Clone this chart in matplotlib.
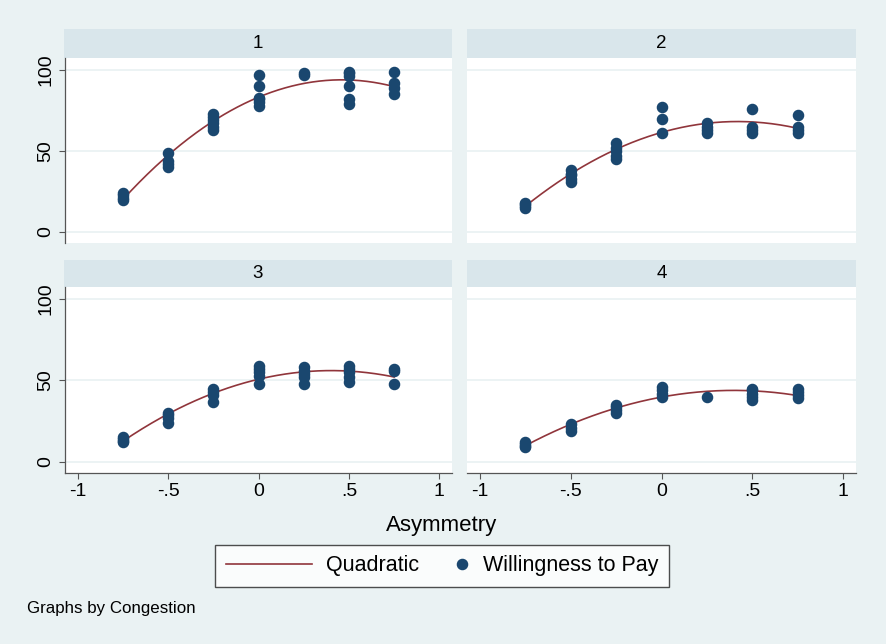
import numpy as np
import matplotlib
matplotlib.use("Agg")
import matplotlib.pyplot as plt
from matplotlib.legend_handler import HandlerBase
from matplotlib.lines import Line2D

plt.rcParams['font.family'] = ['Liberation Sans', 'DejaVu Sans']

# asymmetry levels and willingness to pay, per congestion level
levels = [-0.75, -0.5, -0.25, 0.0, 0.25, 0.5, 0.75]
wtp_1 = [[20, 21, 23, 24], [40, 42, 44, 49], [63, 65, 67, 69, 71, 73],
         [78, 80, 82, 83, 90, 97], [97, 98], [79, 82, 90, 96, 98, 99],
         [85, 89, 92, 99]]
wtp_2 = [[15, 16, 17, 18], [31, 33, 35, 36, 38], [45, 47, 50, 52, 55],
         [61, 70, 77], [61, 63, 65, 67], [61, 63, 65, 76], [61, 63, 65, 72]]
wtp_3 = [[12, 13, 14, 15], [24, 27, 29, 30], [37, 41, 43, 45],
         [48, 53, 55, 57, 59], [48, 52, 54, 56, 58], [49, 52, 55, 57, 59],
         [48, 56, 57]]
wtp_4 = [[9, 10, 11, 12], [19, 21, 23], [30, 32, 34, 35], [40, 42, 44, 46],
         [40], [38, 40, 42, 44, 45], [39, 41, 43, 45]]
panels = ['1', '2', '3', '4']
wtp = [wtp_1, wtp_2, wtp_3, wtp_4]

xticks = [-1, -0.5, 0, 0.5, 1]
xticklabels = ['-1', '-.5', '0', '.5', '1']
yticks = [0, 50, 100]

bg = '#EAF2F3'
strip_col = '#D9E6EB'
navy = '#1A476F'
maroon = '#90353B'
W, H = 886, 644


def box(x0, y0, x1, y1):
    return [x0 / W, 1 - y1 / H, (x1 - x0) / W, (y1 - y0) / H]


fig = plt.figure(figsize=(8.86, 6.44), dpi=100, facecolor=bg)

# pixel boxes for plot areas and strips
plot_boxes = [(65, 58, 452, 243), (467, 58, 856, 243),
              (65, 287, 452, 473), (467, 287, 856, 473)]
strip_boxes = [(64, 29, 452, 58), (467, 29, 856, 58),
               (64, 260, 452, 287), (467, 260, 856, 287)]

for i in range(4):
    sx = fig.add_axes(box(*strip_boxes[i]))
    sx.set_facecolor(strip_col)
    sx.set_xticks([])
    sx.set_yticks([])
    for s in sx.spines.values():
        s.set_visible(False)
    sx.text(0.5, 0.5, panels[i], ha='center', va='center', fontsize=13.5)

    ax = fig.add_axes(box(*plot_boxes[i]))
    ax.set_facecolor('white')
    xs = np.concatenate([[lv] * len(v) for lv, v in zip(levels, wtp[i])])
    ys = np.concatenate(wtp[i])
    c = np.polyfit(xs, ys, 2)
    xf = np.linspace(min(levels), max(levels), 200)
    ax.plot(xf, np.polyval(c, xf), color=maroon, lw=1.2, zorder=2)
    ax.plot(xs, ys, 'o', color=navy, ms=7.3, mec=navy, zorder=3)

    ax.set_xlim(-1.07, 1.07)
    ax.set_ylim(-6.8, 107.4)
    for y in yticks:
        ax.axhline(y, color=bg, lw=1.3, zorder=1)
    ax.spines['top'].set_visible(False)
    ax.spines['right'].set_visible(False)
    for s in ['left', 'bottom']:
        ax.spines[s].set_color('#555555')
        ax.spines[s].set_linewidth(0.9)
    ax.tick_params(length=4.5, width=0.8, color='#555555', labelsize=14, pad=3)

    if i % 2 == 0:
        ax.set_yticks(yticks)
        ax.set_yticklabels([str(y) for y in yticks], rotation=90, va='center')
    else:
        ax.set_yticks([])
        ax.spines['left'].set_visible(False)
    if i >= 2:
        ax.set_xticks(xticks)
        ax.set_xticklabels(xticklabels)
    else:
        ax.set_xticks([])
        ax.spines['bottom'].set_visible(False)

fig.text(442 / W, 1 - 525 / H, 'Asymmetry', ha='center', va='center', fontsize=16)
fig.text(27 / W, 1 - 608 / H, 'Graphs by Congestion', ha='left', va='center', fontsize=12.2)


class RightMarker(HandlerBase):
    # legend dot placed at the right end of the handle box
    def create_artists(self, legend, orig_handle, xdescent, ydescent,
                       width, height, fontsize, trans):
        x = width - xdescent - 0.3 * fontsize
        y = (height - ydescent) / 2
        ln = Line2D([x], [y], ls='none', marker='o', color=navy, ms=7.3)
        ln.set_transform(trans)
        return [ln]


h_line = Line2D([], [], color=maroon, lw=1.2)
h_dot = Line2D([], [], ls='none', marker='o', color=navy, ms=7.3)
leg = fig.legend([h_line, h_dot], ['Quadratic', 'Willingness to Pay'],
                 loc='center', bbox_to_anchor=(442 / W, 1 - 566 / H), ncol=2,
                 fontsize=15.5, handlelength=4, handletextpad=0.65,
                 columnspacing=-1.7, borderpad=0.5, fancybox=False,
                 handler_map={h_dot: RightMarker()})
leg.get_frame().set_edgecolor('#222222')
leg.get_frame().set_linewidth(1.0)

fig.savefig('out.png', dpi=100, facecolor=bg)
